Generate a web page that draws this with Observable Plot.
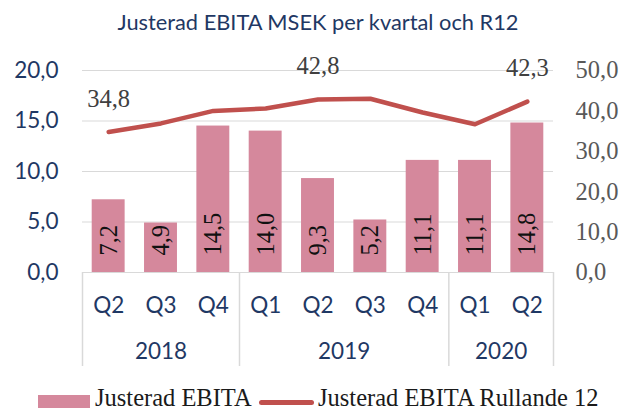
<!DOCTYPE html>
<html>
<head>
<meta charset="utf-8">
<script src="https://cdn.jsdelivr.net/npm/d3@7"></script>
<script src="https://cdn.jsdelivr.net/npm/@observablehq/plot@0.6"></script>
<style>
  html, body { margin: 0; padding: 0; background: #fff; }
  body { width: 622px; height: 411px; overflow: hidden; position: relative; }
  #title { position: absolute; left: 0; top: 9px; width: 622px; box-sizing: border-box; padding-left: 14px;
           text-align: center; font-family: Lato, sans-serif; font-size: 21.8px; color: #1F3864; line-height: 26px; }
  #chart { position: absolute; left: 0; top: 40px; }
  #legend { position: absolute; left: 0; top: 387px; width: 622px; height: 24px;
            font-family: "Liberation Serif", serif; font-size: 24.5px; line-height: 22px; color: #1a1a1a; }
  .sw { position: absolute; }
  .lt { position: absolute; top: 0; white-space: nowrap; }
</style>
</head>
<body>
<div id="title">Justerad EBITA MSEK per kvartal och R12</div>
<div id="chart"></div>
<div id="legend">
  <div class="sw" style="left:38px;top:8px;width:52px;height:13px;background:#D5889C;"></div>
  <div class="lt" style="left:95px;">Justerad EBITA</div>
  <div class="sw" style="left:259px;top:12.5px;width:55px;height:5px;border-radius:3px;background:#C0504D;"></div>
  <div class="lt" style="left:318px;">Justerad EBITA Rullande 12</div>
</div>
<script>
// ---- data ----
const years    = ["2018", "2018", "2018", "2019", "2019", "2019", "2019", "2020", "2020"];
const quarters = ["Q2", "Q3", "Q4", "Q1", "Q2", "Q3", "Q4", "Q1", "Q2"];
const ebita    = [7.2, 4.9, 14.5, 14.0, 9.3, 5.2, 11.1, 11.1, 14.8];
const r12      = [34.8, 36.9, 40.0, 40.6, 42.8, 43.0, 39.6, 36.7, 42.3];
const labeledR12 = [0, 4, 8];
const leftTicks  = [0, 5, 10, 15, 20];
const rightTicks = [0, 10, 20, 30, 40, 50];
const leftMax = 20, rightMax = 50;

// ---- derived ----
const ratio = leftMax / rightMax;
const fmt = v => (+v).toFixed(1).replace(".", ",");
const data = quarters.map((q, i) => ({i, q, year: years[i], ebita: ebita[i], r12: r12[i]}));
const yearGroups = d3.groups(data, d => d.year).map(([year, ds]) => ({
  year, start: ds[0].i, end: ds[ds.length - 1].i + 1
}));
const boundaries = [...yearGroups.map(g => g.start), data.length];

const chart = Plot.plot({
  width: 622,
  height: 340,
  marginTop: 30,
  marginBottom: 108,
  marginLeft: 82,
  marginRight: 69,
  x: {domain: [0, data.length], axis: null},
  y: {domain: [0, leftMax], axis: null},
  marks: [
    Plot.gridY(leftTicks, {stroke: "#D9D9D9", strokeOpacity: 1, strokeWidth: 1.2}),
    Plot.axisX(boundaries, {anchor: "bottom", tickSize: 94, tickFormat: () => "", stroke: "#D9D9D9", strokeOpacity: 1, strokeWidth: 1.5, label: null}),
    Plot.rectY(data, {x1: "i", x2: d => d.i + 1, y: "ebita", insetLeft: 9.7, insetRight: 9.7, fill: "#D5889C"}),
    Plot.text(data, {x: d => d.i + 0.5, y: 0, text: d => fmt(d.ebita), rotate: -90, textAnchor: "start",
      dy: -17, fontFamily: "Liberation Serif", fontSize: 24.5, fill: "#111"}),
    Plot.line(data, {x: d => d.i + 0.5, y: d => d.r12 * ratio, stroke: "#C0504D", strokeWidth: 4.5,
      strokeLinejoin: "round", strokeLinecap: "round"}),
    Plot.text(data.filter(d => labeledR12.includes(d.i)), {x: d => d.i + 0.5, y: d => d.r12 * ratio,
      text: d => fmt(d.r12), dy: -33, fontFamily: "Liberation Serif", fontSize: 24.5, fill: "#404040"}),
    Plot.axisY(leftTicks, {anchor: "left", tickSize: 0, tickPadding: 24, tickFormat: fmt,
      fontFamily: "Lato", fontSize: 22.5, color: "#1F3864", label: null}),
    Plot.axisY(rightTicks.map(t => t * ratio), {anchor: "right", tickSize: 0, tickPadding: 22,
      tickFormat: d => fmt(d / ratio), fontFamily: "Liberation Serif", fontSize: 24.5, color: "#595959", label: null}),
    Plot.text(data, {x: d => d.i + 0.5, y: 0, text: "q", dy: 33, fontFamily: "Lato", fontSize: 22.5, fill: "#1F3864"}),
    Plot.text(yearGroups, {x: d => (d.start + d.end) / 2, y: 0, text: "year", dy: 79, fontFamily: "Lato", fontSize: 22.5, fill: "#1F3864"})
  ]
});
document.getElementById("chart").appendChild(chart);
</script>
</body>
</html>
